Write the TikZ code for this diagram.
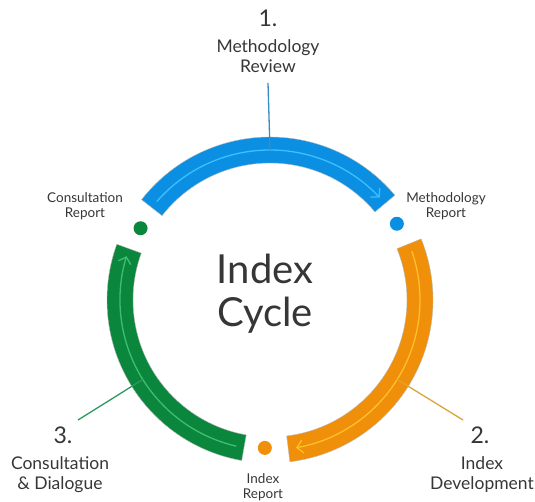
\documentclass[tikz,border=0pt]{standalone}
\usepackage{fontspec}
\setmainfont{Lato}
\usetikzlibrary{arrows.meta,positioning}
\definecolor{revblue}{HTML}{0A8FE3}
\definecolor{revbluelight}{HTML}{3CC0FF}
\definecolor{revblueline}{HTML}{3A8CC0}
\definecolor{devorange}{HTML}{EF8F0A}
\definecolor{devorangelight}{HTML}{FFC02A}
\definecolor{devorangeline}{HTML}{D9A53A}
\definecolor{congreen}{HTML}{0A873C}
\definecolor{congreenlight}{HTML}{3CC070}
\definecolor{congreenline}{HTML}{2A9A60}
\definecolor{txtgray}{HTML}{363636}

% band segment of the cycle: colour, start angle, end angle
\newcommand{\cyclearc}[3]{%
  \fill[#1, draw=gray!55, line width=0.4pt]
    (#2:137) arc[start angle=#2, end angle=#3, radius=137]
    -- (#3:163) arc[start angle=#3, end angle=#2, radius=163] -- cycle;
}

\begin{document}
\begin{tikzpicture}[
    x=1pt, y=1pt,
    font=\color{txtgray},
    flow/.style={line width=1.3pt, -{Straight Barb[length=6pt, width=13pt]}},
    leader/.style={line width=1.3pt},
    dot/.style={circle, minimum size=14pt, inner sep=0pt},
    stepnum/.style={font=\fontsize{23}{27}\selectfont\color{txtgray}},
    steptitle/.style={align=center, font=\fontsize{17.5}{20}\selectfont\color{txtgray}},
    reportlabel/.style={align=center, font=\fontsize{13.5}{15}\selectfont\color{txtgray}},
    centre/.style={align=center, font=\fontsize{40}{43}\selectfont\color{txtgray}}
  ]
\useasboundingbox (-270,-202) rectangle (265,300);

% // the three bands
\cyclearc{revblue}{40}{142}
\cyclearc{devorange}{22}{-83}
\cyclearc{congreen}{160}{260}

% // flow arrows inside the bands
\draw[flow, revbluelight] (139:150) arc[start angle=139, end angle=43, radius=150];
\draw[flow, devorangelight] (19:150) arc[start angle=19, end angle=-80, radius=150];
\draw[flow, congreenlight] (257:150) arc[start angle=257, end angle=163, radius=150];

% // reports
\node[dot, fill=revblue] (mreport) at (31:148) {};
\node[dot, fill=devorange] (ireport) at (268:148) {};
\node[dot, fill=congreen] (creport) at (151:148) {};

\node[reportlabel] (mreportlabel) at (176,93.5) {Methodology\\Report};
\node[reportlabel] (creportlabel) at (-185,93.5) {Consultation\\Report};
\node[reportlabel] (ireportlabel) at (-7,-187.5) {Index\\Report};

% // steps
\node[stepnum] (num1) at (-2,282) {1.};
\node[steptitle] (review) at (-2,243.5) {Methodology\\Review};
\node[stepnum] (num2) at (210,-135) {2.};
\node[steptitle] (develop) at (212,-175) {Index\\Development};
\node[stepnum] (num3) at (-207,-135) {3.};
\node[steptitle] (consult) at (-210,-175) {Consultation\\\& Dialogue};

% // leaders
\coordinate (reviewend) at (-2,217);
\coordinate (developend) at (193,-120);
\coordinate (consultend) at (-192,-120);
\draw[leader, revblueline] (90:150) -- (reviewend);
\draw[leader, devorangeline] (-32:150) -- (developend);
\draw[leader, congreenline] (212:150) -- (consultend);

% // centre
\node[centre] (cycle) at (-5,6) {Index\\Cycle};

\end{tikzpicture}
\end{document}
